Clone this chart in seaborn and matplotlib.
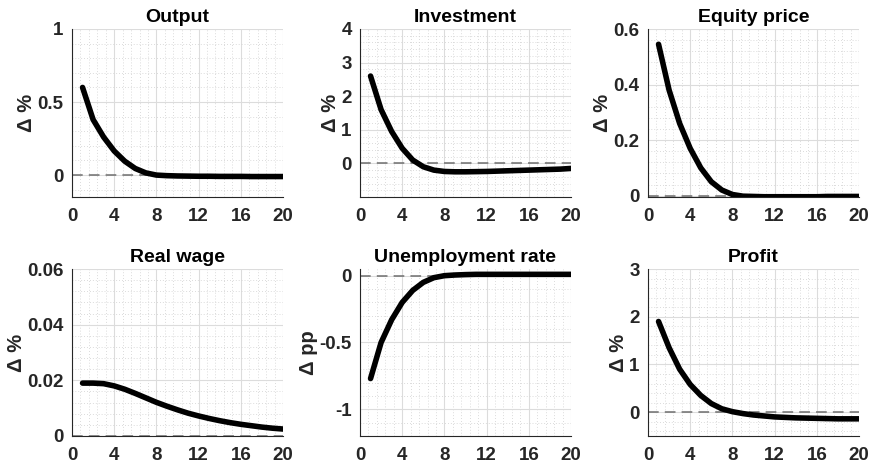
import numpy as np
import pandas as pd
import matplotlib
matplotlib.use("Agg")
import matplotlib.pyplot as plt
from matplotlib.ticker import AutoMinorLocator, MultipleLocator
import seaborn as sns

horizon = list(range(1, 21))

output = [0.60, 0.38, 0.26, 0.165, 0.095, 0.045, 0.015, 0.0, -0.004, -0.006, -0.007, -0.008,
          -0.008, -0.009, -0.009, -0.009, -0.01, -0.01, -0.01, -0.01]
investment = [2.6, 1.6, 0.95, 0.45, 0.1, -0.1, -0.2, -0.24, -0.25, -0.25, -0.245, -0.24,
              -0.23, -0.22, -0.21, -0.2, -0.19, -0.18, -0.17, -0.15]
equity = [0.545, 0.38, 0.26, 0.17, 0.10, 0.05, 0.02, 0.004, -0.002, -0.003, -0.004, -0.004,
          -0.004, -0.004, -0.004, -0.004, -0.003, -0.003, -0.003, -0.003]
real_wage = [0.019, 0.019, 0.0188, 0.018, 0.0168, 0.0153, 0.0137, 0.0121, 0.0107, 0.0094,
             0.0082, 0.0072, 0.0063, 0.0055, 0.0048, 0.0042, 0.0037, 0.0032, 0.0028, 0.0025]
unemployment = [-0.77, -0.50, -0.33, -0.20, -0.11, -0.05, -0.015, 0.0, 0.005, 0.008, 0.01,
                0.01, 0.01, 0.01, 0.01, 0.01, 0.01, 0.01, 0.01, 0.01]
profit = [1.9, 1.35, 0.9, 0.58, 0.35, 0.18, 0.07, 0.01, -0.03, -0.06, -0.08, -0.10, -0.11,
          -0.12, -0.125, -0.13, -0.135, -0.14, -0.14, -0.14]

titles = ["Output", "Investment", "Equity price", "Real wage", "Unemployment rate", "Profit"]
series = [output, investment, equity, real_wage, unemployment, profit]
ylabels = ["Δ %", "Δ %", "Δ %", "Δ %", "Δ pp", "Δ %"]
ylims = [(-0.15, 1.0), (-1.0, 4.0), (-0.005, 0.6), (0.0, 0.06), (-1.2, 0.05), (-0.5, 3.0)]
yticks = [[0, 0.5, 1], [0, 1, 2, 3, 4], [0, 0.2, 0.4, 0.6], [0, 0.02, 0.04, 0.06],
          [-1, -0.5, 0], [0, 1, 2, 3]]
yticklabels = [["0", "0.5", "1"], ["0", "1", "2", "3", "4"], ["0", "0.2", "0.4", "0.6"],
               ["0", "0.02", "0.04", "0.06"], ["-1", "-0.5", "0"], ["0", "1", "2", "3"]]
xticks = [0, 4, 8, 12, 16, 20]

sns.set_style("white")
plt.rcParams['font.family'] = ['Liberation Sans', 'DejaVu Sans']
plt.rcParams['font.weight'] = 'bold'

fig = plt.figure(figsize=(8.7, 4.63), dpi=100)
W, H = 870, 463
lefts = [72, 360, 648]
tops = [29, 269]
bottoms = [197, 436]
aw = 211

for i in range(6):
    r, c = divmod(i, 3)
    ax = fig.add_axes([lefts[c] / W, 1 - bottoms[r] / H, aw / W, (bottoms[r] - tops[r]) / H])
    df = pd.DataFrame({"h": horizon, "v": series[i]})
    ax.axhline(0, color="#6e6e6e", lw=1.1, ls=(0, (7, 4)), zorder=2)
    sns.lineplot(data=df, x="h", y="v", ax=ax, color="black", lw=4.0, zorder=3)
    ax.set_xlim(0, 20)
    ax.set_ylim(*ylims[i])
    ax.set_xticks(xticks)
    ax.set_xticklabels([str(t) for t in xticks])
    ax.set_yticks(yticks[i])
    ax.set_yticklabels(yticklabels[i])
    ax.xaxis.set_minor_locator(AutoMinorLocator(5))
    ax.yaxis.set_minor_locator(AutoMinorLocator(5))
    ax.grid(True, which="major", color="#dcdcdc", lw=0.8)
    ax.grid(True, which="minor", color="#cfcfcf", lw=0.6, ls=(0, (1, 2.5)))
    ax.set_axisbelow(True)
    for s in ["top", "right"]:
        ax.spines[s].set_visible(False)
    for s in ["left", "bottom"]:
        ax.spines[s].set_color("#262626")
        ax.spines[s].set_linewidth(0.8)
    ax.tick_params(which="major", direction="in", length=3, width=0.8, colors="#262626",
                   labelsize=13.5)
    ax.tick_params(axis="x", which="major", pad=8)
    ax.tick_params(axis="y", which="major", pad=6)
    ax.tick_params(which="minor", length=0)
    for lab in ax.get_xticklabels() + ax.get_yticklabels():
        lab.set_fontweight("bold")
        lab.set_color("#262626")
    ax.set_xlabel("")
    ax.set_ylabel(ylabels[i], fontsize=14.5, fontweight="bold", color="#262626", labelpad=1)
    ax.set_title(titles[i], fontsize=14, fontweight="bold", color="black", pad=5)

fig.savefig("out.png", dpi=100)
